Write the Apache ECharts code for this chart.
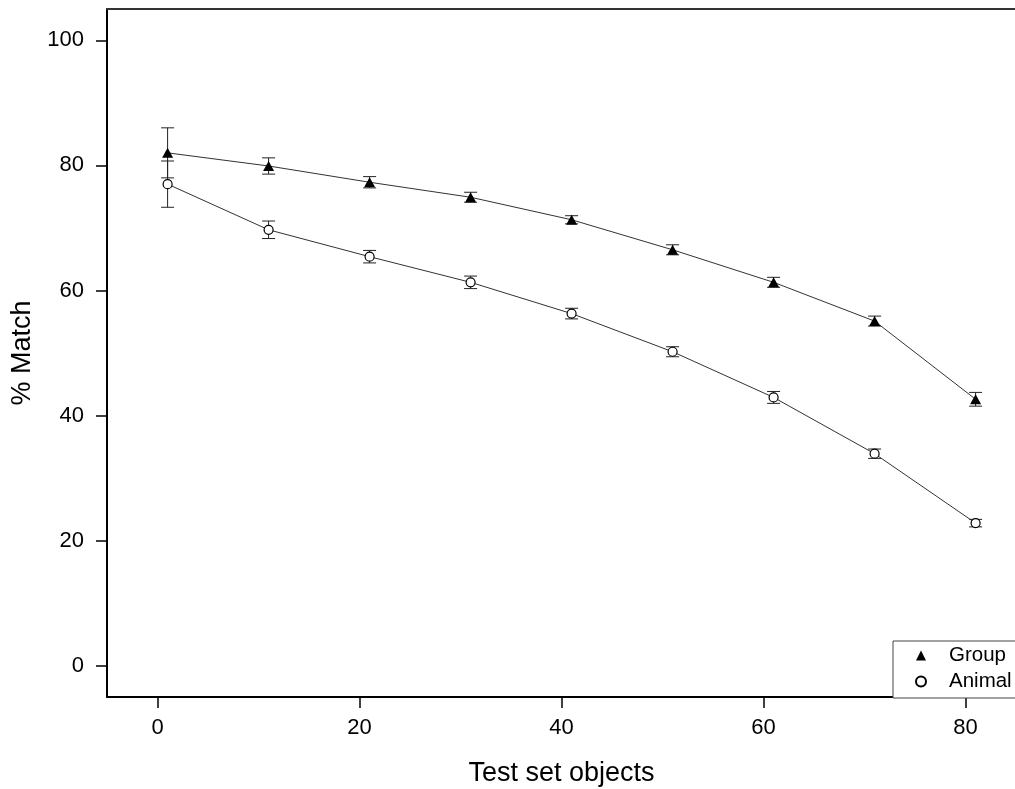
<!DOCTYPE html>
<html>
<head>
<meta charset="utf-8">
<script src="https://cdn.jsdelivr.net/npm/echarts@6/dist/echarts.min.js"></script>
<style>
html,body{margin:0;padding:0;background:#fff;}
#chart{width:1015px;height:789px;}
</style>
</head>
<body>
<div id="chart"></div>
<script>
const xValues = [1, 11, 21, 31, 41, 51, 61, 71, 81];
const groupY = [82.0, 79.9, 77.3, 74.9, 71.3, 66.5, 61.3, 55.1, 42.6];
const groupErr = [4.0, 1.3, 0.9, 0.8, 0.65, 0.8, 0.8, 0.8, 1.1];
const animalY = [77.0, 69.7, 65.4, 61.3, 56.3, 50.2, 42.9, 33.9, 22.8];
const animalErr = [3.7, 1.4, 1.0, 1.0, 0.85, 0.8, 0.95, 0.75, 0.6];
const xTicks = [0, 20, 40, 60, 80];
const yTicks = [0, 20, 40, 60, 80, 100];

const FONT = '"Liberation Sans", Arial, sans-serif';

function pts(ys) { return xValues.map((x, i) => [x, ys[i]]); }
function errs(ys, es) { return xValues.map((x, i) => [x, ys[i] - es[i], ys[i] + es[i]]); }

function renderErr(params, api) {
  const x = api.value(0);
  const lo = api.coord([x, api.value(1)]);
  const hi = api.coord([x, api.value(2)]);
  const hw = 6.5;
  const st = { stroke: '#222', lineWidth: 1 };
  return {
    type: 'group',
    children: [
      { type: 'line', shape: { x1: lo[0], y1: lo[1], x2: hi[0], y2: hi[1] }, style: st },
      { type: 'line', shape: { x1: lo[0] - hw, y1: lo[1], x2: lo[0] + hw, y2: lo[1] }, style: st },
      { type: 'line', shape: { x1: hi[0] - hw, y1: hi[1], x2: hi[0] + hw, y2: hi[1] }, style: st }
    ]
  };
}

const chart = echarts.init(document.getElementById('chart'), null, { renderer: 'canvas' });
chart.setOption({
  animation: false,
  backgroundColor: '#fff',
  grid: { left: 107, top: 9, right: -1, bottom: 92, show: false, outerBoundsMode: 'none', containLabel: false },
  legend: {
    orient: 'vertical',
    left: 893, top: 641,
    padding: [4, 60, 6, 22],
    borderColor: '#444', borderWidth: 1, backgroundColor: '#fff',
    itemWidth: 10, itemHeight: 10, itemGap: 5,
    textStyle: { fontFamily: FONT, fontSize: 20.5, color: '#000', lineHeight: 20, padding: [0, 0, 0, 18] },
    data: [
      { name: 'Group', icon: 'triangle' },
      { name: 'Animal', icon: 'circle' }
    ]
  },
  xAxis: [{
    type: 'value', min: -5, max: 85,
    name: 'Test set objects', nameLocation: 'middle', nameGap: 63,
    nameTextStyle: { fontFamily: FONT, fontSize: 27, color: '#000' },
    axisLine: { show: true, onZero: false, lineStyle: { color: '#000', width: 2 } },
    axisTick: { show: true, inside: false, length: 11, customValues: xTicks, lineStyle: { color: '#000', width: 1.5 } },
    axisLabel: { customValues: xTicks, margin: 20, fontFamily: FONT, fontSize: 22, color: '#000' },
    splitLine: { show: false }
  }, {
    type: 'value', min: -5, max: 85, position: 'top',
    axisLine: { show: true, onZero: false, lineStyle: { color: '#333', width: 2 } },
    axisTick: { show: false }, axisLabel: { show: false }, splitLine: { show: false }
  }],
  yAxis: {
    type: 'value', min: -5, max: 105,
    name: '% Match', nameLocation: 'middle', nameGap: 69,
    nameTextStyle: { fontFamily: FONT, fontSize: 27, color: '#000' },
    axisLine: { show: true, onZero: false, lineStyle: { color: '#000', width: 2 } },
    axisTick: { show: true, inside: false, length: 11, customValues: yTicks, lineStyle: { color: '#000', width: 1.5 } },
    axisLabel: { customValues: yTicks, margin: 23, fontFamily: FONT, fontSize: 22, color: '#000' },
    splitLine: { show: false }
  },
  series: [
    {
      name: 'GroupErr', type: 'custom', renderItem: renderErr, data: errs(groupY, groupErr),
      encode: { x: 0, y: [1, 2] }, z: 1, silent: true
    },
    {
      name: 'AnimalErr', type: 'custom', renderItem: renderErr, data: errs(animalY, animalErr),
      encode: { x: 0, y: [1, 2] }, z: 1, silent: true
    },
    {
      name: 'Group', type: 'line', data: pts(groupY), z: 3,
      symbol: 'triangle', symbolSize: [11, 10], showSymbol: true,
      lineStyle: { color: '#333', width: 1 },
      itemStyle: { color: '#000', borderColor: '#000', borderWidth: 0 }
    },
    {
      name: 'Animal', type: 'line', data: pts(animalY), z: 3,
      symbol: 'circle', symbolSize: 9, showSymbol: true,
      lineStyle: { color: '#333', width: 1 },
      itemStyle: { color: '#fff', borderColor: '#000', borderWidth: 1.2 }
    }
  ]
});
</script>
</body>
</html>
